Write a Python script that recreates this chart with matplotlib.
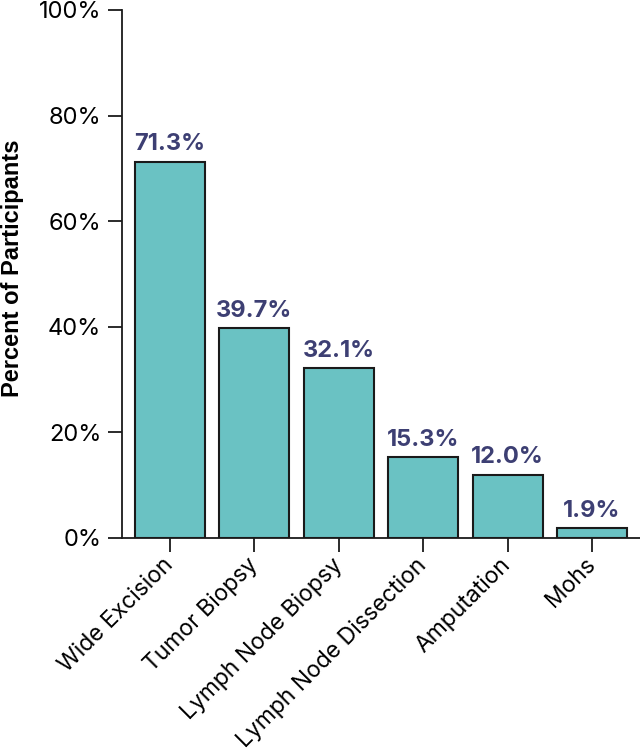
import matplotlib.pyplot as plt
from matplotlib.ticker import FuncFormatter

plt.rcParams['font.family'] = ['Inter', 'DejaVu Sans']

categories = [
    "Wide Excision", "Tumor Biopsy", "Lymph Node Biopsy",
    "Lymph Node Dissection", "Amputation", "Mohs"
]
percents = [71.3, 39.7, 32.1, 15.3, 12.0, 1.9]

BAR_COLOR = '#6ac2c3'
LABEL_COLOR = '#3d3f73'

fig = plt.figure(figsize=(6.4, 7.56), dpi=100)
ax = fig.add_axes([0.1906, 0.2884, 0.8094, 0.6984])

x = range(len(categories))
bars = ax.bar(x, percents, width=0.83, color=BAR_COLOR,
              edgecolor='#1a1a1a', linewidth=1.5, zorder=2)

for rect, val in zip(bars, percents):
    ax.text(rect.get_x() + rect.get_width() / 2, val + 1.2, f"{val:.1f}%",
            ha='center', va='bottom', fontsize=17, fontweight='bold',
            color=LABEL_COLOR)

ax.set_xlim(-0.57, 5.57)
ax.set_ylim(0, 100)
ax.set_yticks([0, 20, 40, 60, 80, 100])
ax.yaxis.set_major_formatter(FuncFormatter(lambda v, _: f"{v:.0f}%"))
ax.set_xticks(list(x))
ax.set_xticklabels(categories, rotation=45, ha='right', va='center',
                   rotation_mode='anchor')

ax.tick_params(axis='both', direction='out', length=10, width=1.3,
               color='#1a1a1a', labelsize=16.5)
ax.tick_params(axis='x', pad=7)
ax.tick_params(axis='y', pad=5, labelsize=17)

for side in ('top', 'right'):
    ax.spines[side].set_visible(False)
for side in ('left', 'bottom'):
    ax.spines[side].set_linewidth(1.3)
    ax.spines[side].set_color('#1a1a1a')

ax.set_ylabel("Percent of Participants", fontsize=17, fontweight='bold',
              family=['Liberation Sans', 'DejaVu Sans'])
ax.yaxis.set_label_coords(-0.19, 0.51)

fig.savefig('out.png', dpi=100)
